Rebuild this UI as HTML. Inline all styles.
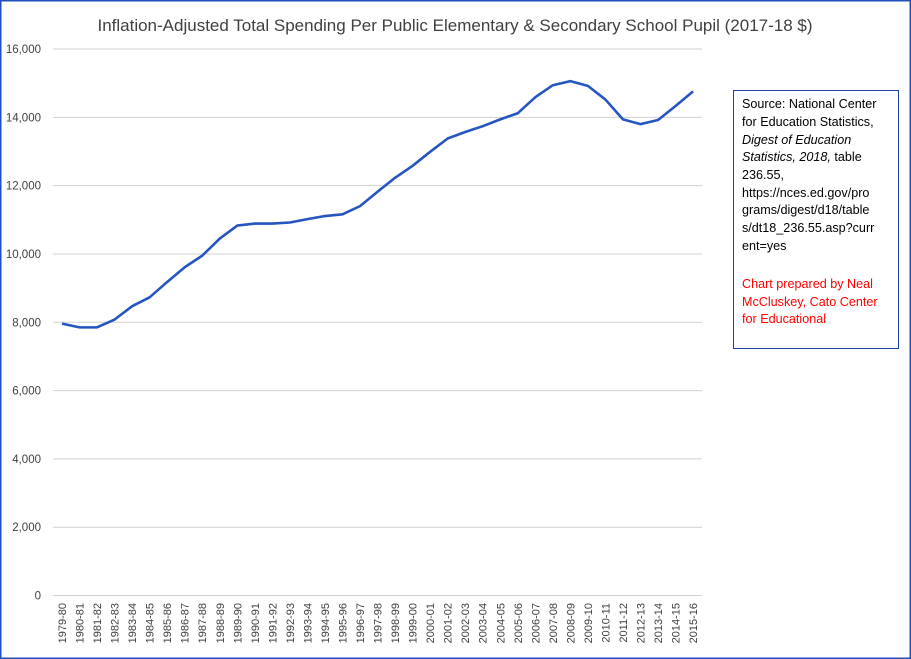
<!DOCTYPE html>
<html><head><meta charset="utf-8"><style>
html,body{margin:0;padding:0;background:#fff;}
svg{display:block;font-family:"Liberation Sans",sans-serif;}
</style></head><body>
<svg width="911" height="659" xmlns="http://www.w3.org/2000/svg">
<rect x="0.75" y="0.75" width="909.5" height="657.5" fill="#fff" stroke="#1f4fbf" stroke-width="1.5"/>
<text x="455" y="31" text-anchor="middle" font-size="17" fill="#404040">Inflation-Adjusted Total Spending Per Public Elementary &amp; Secondary School Pupil (2017-18 $)</text>
<g id="grid" stroke="#d0d0d0" stroke-width="1"></g>
<g id="ylab" font-size="11.5" fill="#404040" text-anchor="end"></g>
<g id="xlab" font-size="11" fill="#404040"></g>
<polyline id="line" fill="none" stroke="#2556bf" stroke-width="2.6" stroke-linejoin="round"/>
<rect x="733.5" y="90.5" width="165" height="258" fill="#fff" stroke="#1f3fa8" stroke-width="1"/>
<g font-size="12.6" fill="#000">
<text x="742" y="108">Source: National Center</text>
<text x="742" y="126">for Education Statistics,</text>
<text x="742" y="144" font-style="italic">Digest of Education</text>
<text x="742" y="161"><tspan font-style="italic">Statistics, 2018,</tspan> table</text>
<text x="742" y="179">236.55,</text>
<text x="742" y="197">https://nces.ed.gov/pro</text>
<text x="742" y="214">grams/digest/d18/table</text>
<text x="742" y="232">s/dt18_236.55.asp?curr</text>
<text x="742" y="250">ent=yes</text>
<g fill="#ff0000">
<text x="742" y="288">Chart prepared by Neal</text>
<text x="742" y="306">McCluskey, Cato Center</text>
<text x="742" y="323">for Educational</text>
</g></g>
</svg>
<script>
const ns="http://www.w3.org/2000/svg";
const y0=595.5,k=546.5/16000;
const g=document.getElementById('grid'),yl=document.getElementById('ylab'),xl=document.getElementById('xlab');
for(let v=0;v<=16000;v+=2000){const y=y0-v*k;
const l=document.createElementNS(ns,'line');l.setAttribute('x1',53);l.setAttribute('x2',702);l.setAttribute('y1',y);l.setAttribute('y2',y);g.appendChild(l);
const t=document.createElementNS(ns,'text');t.setAttribute('x',41);t.setAttribute('y',y+4);t.textContent=v?v.toLocaleString('en-US'):'0';yl.appendChild(t);}
const d=[7960,7850,7850,8080,8470,8730,9180,9610,9950,10450,10830,10890,10890,10920,11020,11110,11160,11400,11820,12230,12580,12990,13380,13570,13740,13940,14120,14590,14940,15060,14920,14520,13940,13800,13920,14330,14760];
const pts=[];
for(let i=0;i<37;i++){const x=62+i*17.53;pts.push(x+','+(y0-d[i]*k));
const yr=1979+i;const s=yr+'-'+String((yr+1)%100).padStart(2,'0');
const t=document.createElementNS(ns,'text');t.setAttribute('transform','translate('+(x+4)+',603) rotate(-90)');t.setAttribute('text-anchor','end');t.textContent=s;xl.appendChild(t);}
document.getElementById('line').setAttribute('points',pts.join(' '));
</script>
</body></html>
